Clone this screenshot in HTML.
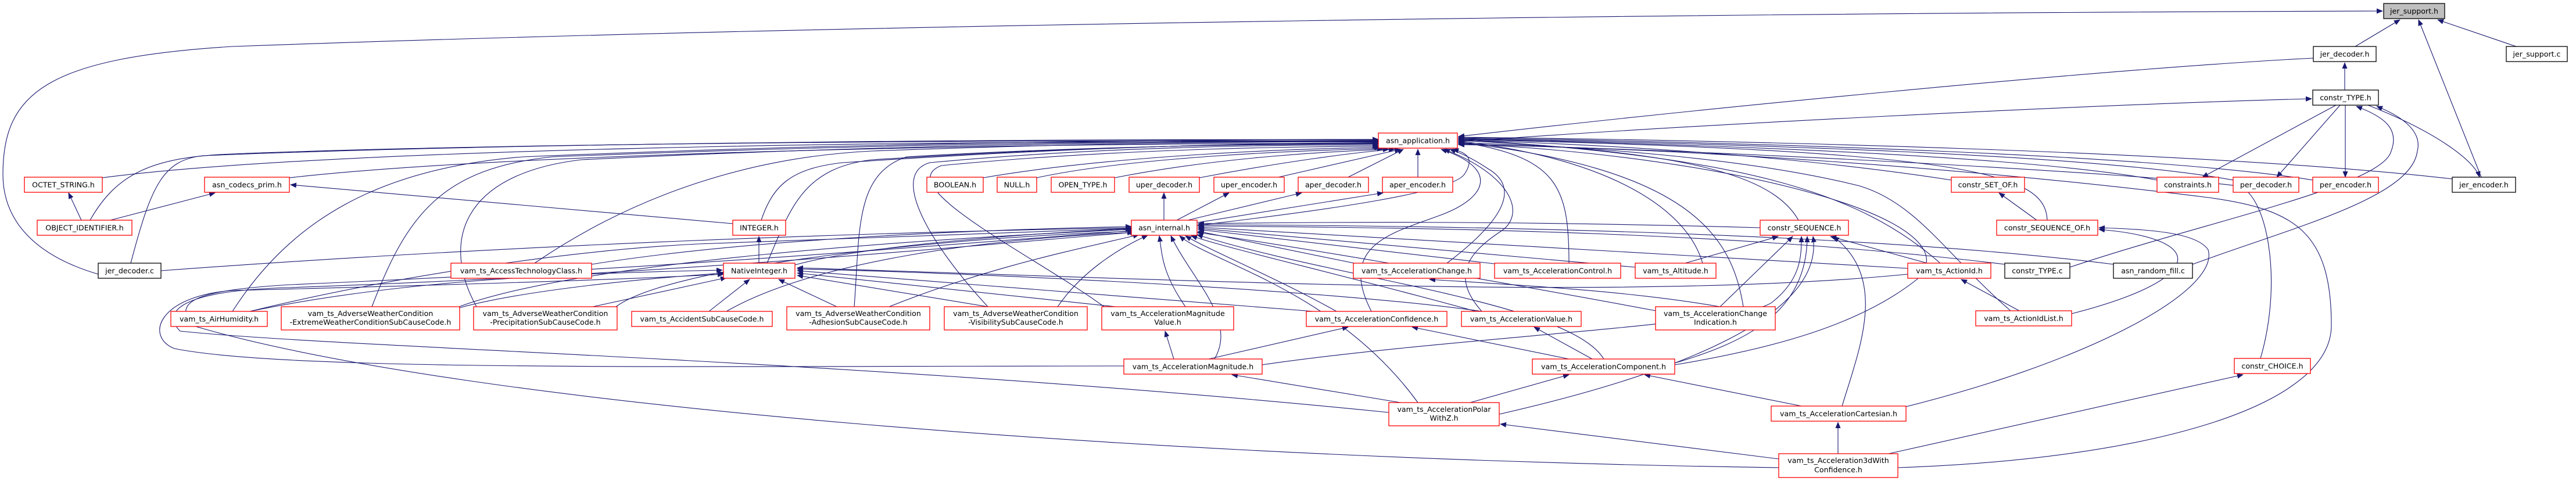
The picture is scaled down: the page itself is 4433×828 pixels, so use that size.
<!DOCTYPE html>
<html><head><meta charset="utf-8"><style>
html,body{margin:0;padding:0;background:#fff;}
svg{display:block;}
text{font-family:"DejaVu Sans","Liberation Sans",sans-serif;font-size:12.6px;fill:#000;text-anchor:middle;}
.r{fill:#fff;stroke:#ff0000;stroke-width:1.3;}
.k{fill:#fff;stroke:#000;stroke-width:1.3;}
.g{fill:#bfbfbf;stroke:#000;stroke-width:1.3;}
.e{fill:none;stroke:#191970;stroke-width:1.1;marker-end:url(#a);}
.e2{fill:none;stroke:#191970;stroke-width:1.1;marker-end:url(#a);marker-start:url(#b);}
</style></head><body>
<svg width="4433" height="828" viewBox="0 0 4433 828" xmlns="http://www.w3.org/2000/svg">
<defs>
<marker id="a" markerWidth="11" markerHeight="9" refX="10" refY="4.5" orient="auto" markerUnits="userSpaceOnUse"><path d="M0,0 L11,4.5 L0,9z" fill="#191970"/></marker>
<marker id="b" markerWidth="11" markerHeight="9" refX="1" refY="4.5" orient="auto" markerUnits="userSpaceOnUse"><path d="M11,0 L0,4.5 L11,9z" fill="#191970"/></marker>
</defs>
<rect width="4433" height="828" fill="#fff"/>
<g>
<!-- top -->
<path class="e" d="M4053,80 L4130,34"/>
<path class="e" d="M4330,80 L4195,34"/>
<path class="e" d="M4270,305 L4162,34"/>
<path class="e" d="M169,472 C60,440 5,380 5,300 C5,160 80,100 400,80 C1500,40 3000,22 4100,19"/>
<path class="e" d="M4035,155 L4035,108"/>
<path class="e" d="M3981,100 C3600,120 2900,190 2510,235"/>
<path class="e2" d="M2510,244 C2900,215 3600,180 3978,170"/>
<path class="e" d="M4020,181 L3790,305"/>
<path class="e" d="M4027,181 L3918,305"/>
<path class="e" d="M4036,181 L4036,305"/>
<path class="e" d="M4075,181 C4200,230 4260,280 4267,305"/>
<path class="e" d="M3562,460 C3800,380 4100,320 4115,260 C4130,220 4100,200 4055,183"/>
<path class="e" d="M3773,455 C3950,390 4150,340 4160,260 C4170,220 4120,195 4090,183"/>
<!-- into asn_application left -->
<path class="e" d="M176,306 C600,250 1800,240 2372,245"/>
<path class="e" d="M498,306 C900,260 1900,245 2372,247"/>
<path class="e" d="M155,379 C200,300 260,270 400,265 C900,245 1900,240 2372,243"/>
<path class="e" d="M225,453 C260,320 280,275 350,268 C900,245 1900,238 2372,241"/>
<path class="e" d="M400,536 C500,380 650,290 900,270 C1500,245 2000,240 2372,240"/>
<path class="e" d="M640,528 C700,370 760,290 950,270 C1500,248 2000,242 2372,242"/>
<path class="e" d="M820,528 C760,420 790,300 1000,275 C1500,250 2000,243 2372,243"/>
<path class="e" d="M920,453 C1100,330 1300,270 1500,260 C1900,245 2200,244 2372,244"/>
<path class="e" d="M1310,379 C1330,320 1360,290 1450,280 C1900,250 2200,246 2372,246"/>
<path class="e" d="M1320,453 C1360,360 1380,290 1500,275 C1900,250 2200,247 2372,247"/>
<path class="e" d="M1470,528 C1480,400 1470,300 1560,270 C1900,250 2200,248 2372,248"/>
<path class="e" d="M1700,528 C1600,420 1530,300 1600,280 C1900,252 2200,249 2372,250"/>
<path class="e" d="M1900,528 C1780,440 1530,320 1620,285 C1900,258 2200,252 2372,252"/>
<path class="e" d="M1692,306 C1900,270 2200,256 2375,254"/>
<path class="e" d="M1784,306 C1950,270 2250,258 2380,256"/>
<path class="e" d="M1918,306 C2100,270 2300,260 2390,257"/>
<path class="e" d="M2064,306 C2200,280 2330,262 2400,257"/>
<path class="e" d="M2200,305 L2410,257"/>
<path class="e" d="M2320,305 L2415,257"/>
<path class="e" d="M2440,305 L2440,257"/>
<path class="e" d="M2060,388 C2300,360 2500,330 2520,300 C2540,270 2520,262 2500,257"/>
<path class="e" d="M2490,453 C2560,400 2630,330 2560,290 C2530,270 2510,262 2495,257"/>
<path class="e" d="M2360,536 C2300,420 2400,400 2480,370 C2560,340 2580,290 2480,257"/>
<path class="e" d="M2550,536 C2500,480 2520,440 2580,400 C2630,370 2600,300 2485,257"/>
<!-- into asn_application right -->
<path class="e" d="M2700,453 C2700,320 2680,270 2510,244"/>
<path class="e" d="M2930,453 C2900,350 2750,270 2510,243"/>
<path class="e" d="M3095,379 C3050,300 2900,260 2510,242"/>
<path class="e" d="M3358,310 C3100,270 2800,250 2510,241"/>
<path class="e" d="M3523,379 C3520,300 3400,260 2510,240"/>
<path class="e" d="M3340,454 C3200,330 3000,270 2510,240"/>
<path class="e" d="M3712,310 C3500,270 3000,250 2510,239"/>
<path class="e" d="M3843,310 C3600,265 3000,248 2510,238"/>
<path class="e" d="M3980,310 C3700,265 3000,245 2510,237"/>
<path class="e" d="M4220,308 C3800,260 3000,242 2510,236"/>
<path class="e" d="M3000,528 C2980,400 2900,290 2510,245"/>
<path class="e" d="M3460,535 C3350,440 3300,350 3200,320 C3000,270 2700,250 2510,246"/>
<path class="e" d="M3890,617 C3930,480 3900,330 3850,320 C3700,300 3000,260 2510,248"/>
<path class="e" d="M3266,805 C3700,790 4012,700 4012,560 C4012,400 3950,360 3800,340 C3400,290 2900,255 2510,249"/>
<path class="e" d="M2882,628 C3050,600 3200,560 3300,480 C3400,380 3000,270 2510,247"/>
<!-- into asn_internal -->
<path class="e" d="M277,466 C900,420 1500,400 1947,392"/>
<path class="e" d="M1018,455 C1300,410 1700,395 1947,390"/>
<path class="e" d="M1368,456 C1500,420 1800,400 1947,394"/>
<path class="e" d="M430,536 C700,470 1000,430 1200,420 C1600,405 1800,396 1947,393"/>
<path class="e" d="M790,528 C1000,450 1600,410 1947,395"/>
<path class="e" d="M1060,528 C1150,460 1600,410 1950,398"/>
<path class="e" d="M1250,536 C1400,450 1700,410 1955,400"/>
<path class="e" d="M1530,528 C1700,460 1850,430 1960,404"/>
<path class="e" d="M1820,528 C1860,470 1920,430 1975,405"/>
<path class="e" d="M2040,528 C2000,470 2000,440 1995,406"/>
<path class="e" d="M2090,618 C2130,550 2050,480 2015,406"/>
<path class="e" d="M2440,693 C2300,500 2080,450 2030,406"/>
<path class="e" d="M2300,536 C2200,480 2080,430 2040,406"/>
<path class="e" d="M2540,536 C2300,470 2120,430 2050,406"/>
<path class="e" d="M2850,535 C2500,470 2200,420 2060,400"/>
<path class="e" d="M2760,618 C2700,520 2300,480 2060,404"/>
<path class="e" d="M2340,455 L2062,398"/>
<path class="e" d="M2580,455 L2062,395"/>
<path class="e" d="M2814,460 L2062,393"/>
<path class="e" d="M3283,462 L2062,391"/>
<path class="e" d="M3450,455 C3000,400 2500,392 2062,389"/>
<path class="e" d="M3637,455 C3200,400 2500,388 2062,387"/>
<path class="e" d="M3029,392 C2600,380 2300,382 2062,385"/>
<path class="e" d="M2003,379 L2003,332"/>
<path class="e" d="M2025,379 L2115,332"/>
<path class="e" d="M2040,380 L2240,332"/>
<path class="e" d="M2055,384 L2380,332"/>
<path class="e" d="M1261,385 L500,318"/>
<path class="e" d="M1306,453 L1306,407"/>
<path class="e" d="M140,379 L118,332"/>
<path class="e" d="M190,379 L370,332"/>
<!-- into NativeInteger -->
<path class="e" d="M430,536 C700,480 1000,470 1243,465"/>
<path class="e" d="M790,530 C900,500 1100,480 1246,470"/>
<path class="e" d="M1020,528 L1250,478"/>
<path class="e" d="M1220,536 L1290,481"/>
<path class="e" d="M1440,528 L1340,481"/>
<path class="e" d="M1700,528 L1372,474"/>
<path class="e" d="M1920,528 L1372,470"/>
<path class="e" d="M2260,536 L1372,466"/>
<path class="e" d="M2550,536 C2300,500 1700,470 1372,463"/>
<path class="e" d="M3283,472 C2800,520 2000,480 1372,461"/>
<path class="e" d="M1934,630 C1200,630 500,640 300,600 C250,580 270,510 400,500 C800,490 1100,480 1245,472"/>
<path class="e" d="M2390,710 C1500,620 600,600 310,570 C280,540 300,500 500,495 C1200,470 1700,420 1950,400"/>
<path class="e" d="M3061,805 C2000,790 800,700 330,560 C300,520 330,500 500,490 C1200,460 1700,415 1950,397"/>
<!-- constr_SEQUENCE -->
<path class="e" d="M2900,453 L3060,407"/>
<path class="e" d="M2960,528 L3085,407"/>
<path class="e" d="M3320,454 L3150,407"/>
<path class="e" d="M2172,628 C2500,580 3000,560 3050,520 C3100,480 3100,440 3100,407"/>
<path class="e" d="M2882,625 C3000,590 3110,540 3110,407"/>
<path class="e" d="M2580,713 C2900,640 3140,540 3120,407"/>
<path class="e" d="M3170,699 C3200,600 3250,480 3155,407"/>
<path class="e" d="M3475,535 L3375,481"/>
<path class="e" d="M3565,540 C3800,480 3800,410 3612,395"/>
<path class="e" d="M3505,379 L3440,332"/>
<path class="e" d="M3280,700 C3600,620 3820,500 3800,430 C3780,400 3700,395 3612,392"/>
<path class="e" d="M2960,528 C2800,500 2600,490 2460,481"/>
<path class="e" d="M2020,618 L2005,570"/>
<path class="e" d="M2080,618 L2320,563"/>
<path class="e" d="M2700,618 L2430,563"/>
<path class="e" d="M2740,618 L2640,563"/>
<path class="e" d="M2410,693 L2120,645"/>
<path class="e" d="M2530,693 L2700,645"/>
<path class="e" d="M3100,699 L2830,645"/>
<path class="e" d="M3163,781 L3163,727"/>
<path class="e" d="M3061,790 L2582,730"/>
<path class="e" d="M3250,781 L3860,645"/>
</g>
<g>
<rect class="g" x="4102" y="6" width="105" height="26"/><text x="4154.5" y="23.5">jer_support.h</text>
<rect class="k" x="3981" y="80" width="108" height="26"/><text x="4035" y="97.5">jer_decoder.h</text>
<rect class="k" x="4313" y="80" width="105" height="26"/><text x="4365.5" y="97.5">jer_support.c</text>
<rect class="k" x="3980" y="155" width="113" height="26"/><text x="4036.5" y="172.5">constr_TYPE.h</text>
<rect class="r" x="2372" y="229" width="136" height="26"/><text x="2440" y="246.5">asn_application.h</text>

<rect class="r" x="42" y="305" width="134" height="26"/><text x="109" y="322.5">OCTET_STRING.h</text>
<rect class="r" x="352" y="305" width="146" height="26"/><text x="425" y="322.5">asn_codecs_prim.h</text>
<rect class="r" x="1595" y="305" width="97" height="26"/><text x="1643.5" y="322.5">BOOLEAN.h</text>
<rect class="r" x="1716" y="305" width="68" height="26"/><text x="1750" y="322.5">NULL.h</text>
<rect class="r" x="1809" y="305" width="109" height="26"/><text x="1863.5" y="322.5">OPEN_TYPE.h</text>
<rect class="r" x="1943" y="305" width="121" height="26"/><text x="2003.5" y="322.5">uper_decoder.h</text>
<rect class="r" x="2089" y="305" width="121" height="26"/><text x="2149.5" y="322.5">uper_encoder.h</text>
<rect class="r" x="2234" y="305" width="121" height="26"/><text x="2294.5" y="322.5">aper_decoder.h</text>
<rect class="r" x="2379" y="305" width="121" height="26"/><text x="2439.5" y="322.5">aper_encoder.h</text>
<rect class="r" x="3358" y="305" width="126" height="26"/><text x="3421" y="322.5">constr_SET_OF.h</text>
<rect class="r" x="3712" y="305" width="106" height="26"/><text x="3765" y="322.5">constraints.h</text>
<rect class="r" x="3843" y="305" width="113" height="26"/><text x="3899.5" y="322.5">per_decoder.h</text>
<rect class="r" x="3980" y="305" width="113" height="26"/><text x="4036.5" y="322.5">per_encoder.h</text>
<rect class="k" x="4220" y="305" width="109" height="26"/><text x="4274.5" y="322.5">jer_encoder.h</text>

<rect class="r" x="64" y="379" width="163" height="26"/><text x="145.5" y="396.5">OBJECT_IDENTIFIER.h</text>
<rect class="r" x="1261" y="379" width="91" height="26"/><text x="1306.5" y="396.5">INTEGER.h</text>
<rect class="r" x="1947" y="379" width="113" height="26"/><text x="2003.5" y="396.5">asn_internal.h</text>
<rect class="r" x="3029" y="379" width="152" height="26"/><text x="3105" y="396.5">constr_SEQUENCE.h</text>
<rect class="r" x="3436" y="379" width="174" height="26"/><text x="3523" y="396.5">constr_SEQUENCE_OF.h</text>

<rect class="k" x="169" y="453" width="108" height="26"/><text x="223" y="470.5">jer_decoder.c</text>
<rect class="r" x="776" y="453" width="242" height="26"/><text x="897" y="470.5">vam_ts_AccessTechnologyClass.h</text>
<rect class="r" x="1245" y="453" width="123" height="26"/><text x="1306.5" y="470.5">NativeInteger.h</text>
<rect class="r" x="2329" y="453" width="218" height="26"/><text x="2438" y="470.5">vam_ts_AccelerationChange.h</text>
<rect class="r" x="2572" y="453" width="217" height="26"/><text x="2680.5" y="470.5">vam_ts_AccelerationControl.h</text>
<rect class="r" x="2814" y="453" width="139" height="26"/><text x="2883.5" y="470.5">vam_ts_Altitude.h</text>
<rect class="r" x="3283" y="453" width="143" height="26"/><text x="3354.5" y="470.5">vam_ts_ActionId.h</text>
<rect class="k" x="3450" y="453" width="112" height="26"/><text x="3506" y="470.5">constr_TYPE.c</text>
<rect class="k" x="3637" y="453" width="136" height="26"/><text x="3705" y="470.5">asn_random_fill.c</text>

<rect class="r" x="294" y="536" width="166" height="26"/><text x="377" y="553.5">vam_ts_AirHumidity.h</text>
<rect class="r" x="484" y="528" width="307" height="40"/><text x="637.5" y="544">vam_ts_AdverseWeatherCondition</text><text x="637.5" y="559">-ExtremeWeatherConditionSubCauseCode.h</text>
<rect class="r" x="815" y="528" width="247" height="40"/><text x="938.5" y="544">vam_ts_AdverseWeatherCondition</text><text x="938.5" y="559">-PrecipitationSubCauseCode.h</text>
<rect class="r" x="1087" y="536" width="242" height="26"/><text x="1208" y="553.5">vam_ts_AccidentSubCauseCode.h</text>
<rect class="r" x="1354" y="528" width="246" height="40"/><text x="1477" y="544">vam_ts_AdverseWeatherCondition</text><text x="1477" y="559">-AdhesionSubCauseCode.h</text>
<rect class="r" x="1625" y="528" width="246" height="40"/><text x="1748" y="544">vam_ts_AdverseWeatherCondition</text><text x="1748" y="559">-VisibilitySubCauseCode.h</text>
<rect class="r" x="1896" y="528" width="227" height="40"/><text x="2009.5" y="544">vam_ts_AccelerationMagnitude</text><text x="2009.5" y="559">Value.h</text>
<rect class="r" x="2248" y="536" width="242" height="26"/><text x="2369" y="553.5">vam_ts_AccelerationConfidence.h</text>
<rect class="r" x="2515" y="536" width="206" height="26"/><text x="2618" y="553.5">vam_ts_AccelerationValue.h</text>
<rect class="r" x="2849" y="528" width="206" height="40"/><text x="2952" y="544">vam_ts_AccelerationChange</text><text x="2952" y="559">Indication.h</text>
<rect class="r" x="3400" y="535" width="165" height="26"/><text x="3482.5" y="552.5">vam_ts_ActionIdList.h</text>

<rect class="r" x="1934" y="618" width="238" height="26"/><text x="2053" y="635.5">vam_ts_AccelerationMagnitude.h</text>
<rect class="r" x="2637" y="618" width="245" height="26"/><text x="2759.5" y="635.5">vam_ts_AccelerationComponent.h</text>
<rect class="r" x="3845" y="617" width="131" height="26"/><text x="3910.5" y="634.5">constr_CHOICE.h</text>
<rect class="r" x="2390" y="693" width="190" height="40"/><text x="2485" y="709">vam_ts_AccelerationPolar</text><text x="2485" y="724">WithZ.h</text>
<rect class="r" x="3048" y="699" width="232" height="26"/><text x="3164" y="716.5">vam_ts_AccelerationCartesian.h</text>
<rect class="r" x="3061" y="781" width="205" height="41"/><text x="3163.5" y="797">vam_ts_Acceleration3dWith</text><text x="3163.5" y="813">Confidence.h</text>
</g>
</svg>
</body></html>
